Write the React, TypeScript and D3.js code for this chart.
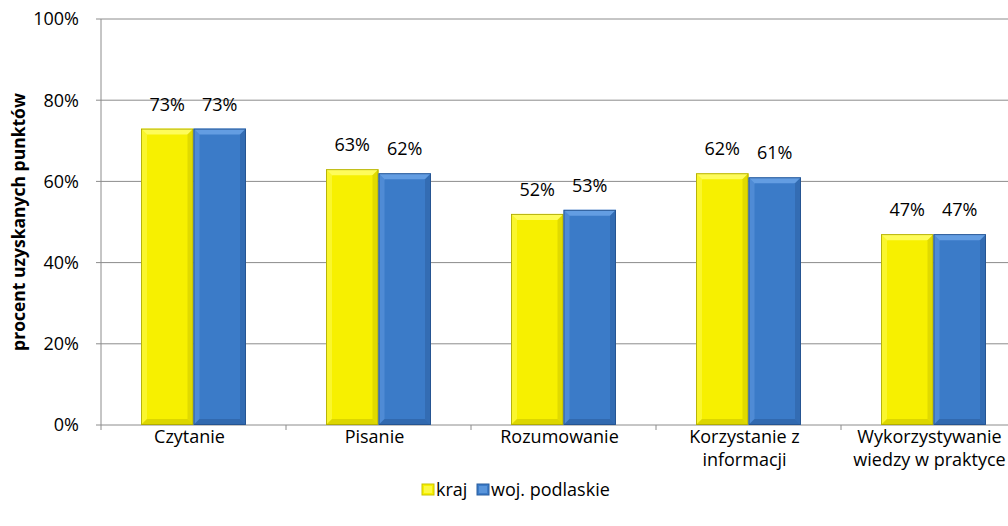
import * as d3 from "d3";
import { useEffect, useRef } from "react";

const categories = [
  ["Czytanie"],
  ["Pisanie"],
  ["Rozumowanie"],
  ["Korzystanie z", "informacji"],
  ["Wykorzystywanie", "wiedzy w praktyce"],
];
const kraj = [73, 63, 52, 62, 47];
const woj = [73, 62, 53, 61, 47];
const yTicks = [0, 20, 40, 60, 80, 100];
const seriesNames = ["kraj", "woj. podlaskie"];

const W = 1008;
const H = 526;
const FONT = "'Open Sans', 'Liberation Sans', sans-serif";
const FS = 18;

const colors = [
  { main: "#f7f000", light: "#ffff70", dark: "#c9c400", edge: "#a8a300" },
  { main: "#3b7bc8", light: "#6ea6e8", dark: "#2b5e9e", edge: "#24508a" },
];

export const App = () => {
  const ref = useRef<SVGSVGElement>(null);

  useEffect(() => {
    const svg = d3.select(ref.current);
    svg.selectAll("*").remove(); // reset

    const left = 101;
    const top = 19;
    const bottom = 425;
    const step = 185;

    const x = d3
      .scaleBand<number>()
      .domain(d3.range(categories.length))
      .range([left, left + step * categories.length]);
    const y = d3.scaleLinear().domain([0, 100]).range([bottom, top]);
    const barW = 52.5;

    const g = svg.append("g");

    // gridlines
    g.selectAll("line.grid")
      .data(yTicks.filter((t) => t > 0))
      .join("line")
      .attr("x1", left)
      .attr("x2", W)
      .attr("y1", (d) => y(d))
      .attr("y2", (d) => y(d))
      .attr("stroke", "#8c8c8c")
      .attr("stroke-width", 1);

    // y axis
    g.append("line")
      .attr("x1", left)
      .attr("x2", left)
      .attr("y1", top)
      .attr("y2", bottom)
      .attr("stroke", "#8c8c8c");
    g.selectAll("line.ytick")
      .data(yTicks)
      .join("line")
      .attr("x1", left - 5)
      .attr("x2", left)
      .attr("y1", (d) => y(d))
      .attr("y2", (d) => y(d))
      .attr("stroke", "#8c8c8c");
    g.selectAll("text.ytick")
      .data(yTicks)
      .join("text")
      .attr("x", left - 22)
      .attr("y", (d) => y(d))
      .attr("dy", "0.35em")
      .attr("text-anchor", "end")
      .attr("font-family", FONT)
      .attr("font-size", FS)
      .attr("fill", "#000")
      .text((d) => d + "%");

    // x axis
    g.append("line")
      .attr("x1", left)
      .attr("x2", W)
      .attr("y1", bottom)
      .attr("y2", bottom)
      .attr("stroke", "#8c8c8c");
    g.selectAll("line.xtick")
      .data(d3.range(categories.length + 1))
      .join("line")
      .attr("x1", (d) => left + d * step)
      .attr("x2", (d) => left + d * step)
      .attr("y1", bottom)
      .attr("y2", bottom + 5)
      .attr("stroke", "#8c8c8c");

    // bars with a bevel look
    const drawBar = (bx: number, v: number, c: (typeof colors)[0]) => {
      const by = y(v);
      const bh = bottom - by;
      const b = 6;
      const bg = g.append("g");
      bg.append("rect")
        .attr("x", bx)
        .attr("y", by)
        .attr("width", barW)
        .attr("height", bh)
        .attr("fill", c.main);
      bg.append("polygon")
        .attr("points", `${bx},${by} ${bx + barW},${by} ${bx + barW - b},${by + b} ${bx + b},${by + b}`)
        .attr("fill", c.light)
        .attr("opacity", 0.8);
      bg.append("polygon")
        .attr("points", `${bx},${by} ${bx + b},${by + b} ${bx + b},${bottom - b} ${bx},${bottom}`)
        .attr("fill", c.light)
        .attr("opacity", 0.4);
      bg.append("polygon")
        .attr("points", `${bx + barW},${by} ${bx + barW - b},${by + b} ${bx + barW - b},${bottom - b} ${bx + barW},${bottom}`)
        .attr("fill", c.dark)
        .attr("opacity", 0.5);
      bg.append("polygon")
        .attr("points", `${bx},${bottom} ${bx + b},${bottom - b} ${bx + barW - b},${bottom - b} ${bx + barW},${bottom}`)
        .attr("fill", c.dark)
        .attr("opacity", 0.6);
      bg.append("rect")
        .attr("x", bx + 0.5)
        .attr("y", by + 0.5)
        .attr("width", barW - 1)
        .attr("height", bh - 1)
        .attr("fill", "none")
        .attr("stroke", c.edge)
        .attr("stroke-width", 0.8);
    };

    [kraj, woj].forEach((series, si) => {
      series.forEach((v, i) => {
        const cx = (x(i) ?? 0) + x.bandwidth() / 2;
        const bx = si === 0 ? cx - barW : cx;
        drawBar(bx, v, colors[si]);
        g.append("text")
          .attr("x", bx + barW / 2)
          .attr("y", y(v) - 18)
          .attr("text-anchor", "middle")
          .attr("font-family", FONT)
          .attr("font-size", FS)
          .attr("fill", "#000")
          .text(v + "%");
      });
    });

    // category labels
    categories.forEach((lines, i) => {
      const cx = (x(i) ?? 0) + x.bandwidth() / 2;
      lines.forEach((ln, li) => {
        g.append("text")
          .attr("x", cx - 4)
          .attr("y", 443 + li * 23)
          .attr("text-anchor", "middle")
          .attr("font-family", FONT)
          .attr("font-size", FS)
          .attr("fill", "#000")
          .text(ln);
      });
    });

    // y title
    g.append("text")
      .attr("transform", `translate(25,${(top + bottom) / 2}) rotate(-90)`)
      .attr("text-anchor", "middle")
      .attr("font-family", FONT)
      .attr("font-size", 17.5)
      .attr("font-weight", "bold")
      .attr("fill", "#000")
      .text("procent uzyskanych punktów");

    // legend
    const lx = [422, 477];
    seriesNames.forEach((name, i) => {
      const c = colors[i];
      g.append("rect")
        .attr("x", lx[i])
        .attr("y", 484)
        .attr("width", 12)
        .attr("height", 11)
        .attr("fill", c.main)
        .attr("stroke", c.dark)
        .attr("stroke-width", 1);
      g.append("rect")
        .attr("x", lx[i] + 2)
        .attr("y", 486)
        .attr("width", 8)
        .attr("height", 7)
        .attr("fill", c.light)
        .attr("opacity", 0.6);
      g.append("text")
        .attr("x", lx[i] + 14)
        .attr("y", 496)
        .attr("font-family", FONT)
        .attr("font-size", FS)
        .attr("fill", "#000")
        .text(name);
    });
  }, []);

  return (
    <svg
      ref={ref}
      width={W}
      height={H}
      style={{ position: "absolute", left: 0, top: 0, background: "#fff" }}
    ></svg>
  );
};

export default App;
